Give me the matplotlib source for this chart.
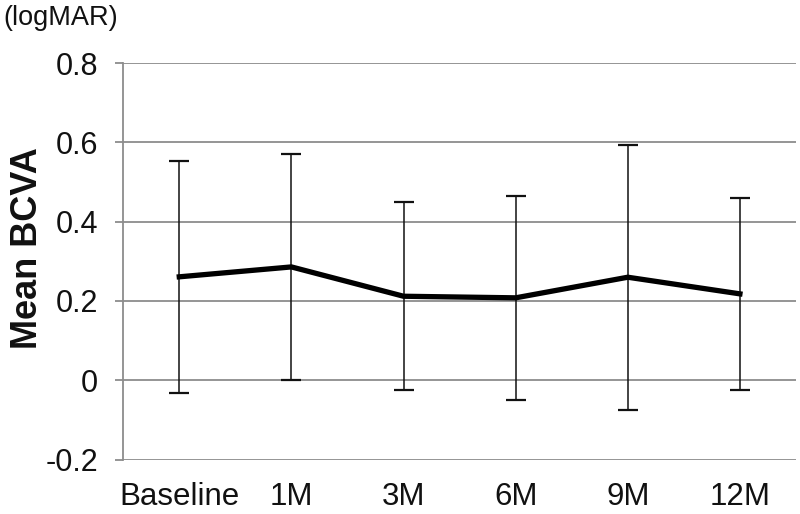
import matplotlib
matplotlib.use("Agg")
import matplotlib.pyplot as plt
import numpy as np

# mean BCVA (logMAR) with SD error bars
visits = ["Baseline", "1M", "3M", "6M", "9M", "12M"]
mean_bcva = [0.261, 0.286, 0.212, 0.208, 0.260, 0.218]
sd_bcva = [0.292, 0.286, 0.237, 0.258, 0.334, 0.243]

plt.rcParams["font.family"] = ["Liberation Sans", "DejaVu Sans"]

fig = plt.figure(figsize=(8, 5.14), dpi=100)
ax = fig.add_axes([0.154, 0.106, 0.841, 0.771])

x = np.arange(len(visits))
ax.errorbar(x, mean_bcva, yerr=sd_bcva, fmt="none", ecolor="#111111",
            elinewidth=1.1, capsize=7, capthick=1.6, zorder=3)
ax.plot(x, mean_bcva, color="black", lw=3.8, solid_joinstyle="miter", zorder=4)

ax.set_xlim(-0.5, len(visits) - 0.5)
ax.set_ylim(-0.2, 0.8)
ax.set_yticks([-0.2, 0, 0.2, 0.4, 0.6, 0.8])
ax.set_yticklabels(["-0.2", "0", "0.2", "0.4", "0.6", "0.8"])
ax.set_xticks(x)
ax.set_xticklabels(visits)

ax.yaxis.grid(True, color="#8c8c8c", lw=1.3)
ax.set_axisbelow(True)
for s in ["top", "right", "bottom"]:
    ax.spines[s].set_visible(False)
ax.spines["left"].set_color("#8c8c8c")
ax.spines["left"].set_linewidth(1.3)

ax.tick_params(axis="y", length=6, width=1.3, color="#8c8c8c", pad=12,
               labelsize=22, labelcolor="#111111")
ax.tick_params(axis="x", length=0, pad=16, labelsize=22.5, labelcolor="#111111")

fig.text(0.034, 0.5175, "Mean BCVA", rotation=90, ha="center", va="center",
         fontsize=26, fontweight="bold", color="#111111")
fig.text(0.004, 0.965, "(logMAR)", ha="left", va="center", fontsize=19.5,
         color="#111111")

fig.savefig("out.png", dpi=100)
